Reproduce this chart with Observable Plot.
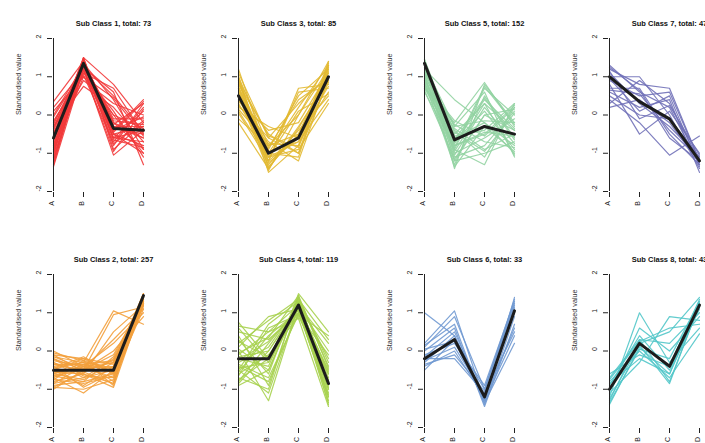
<!DOCTYPE html>
<html>
<head>
<meta charset="utf-8">
<script src="https://cdn.jsdelivr.net/npm/d3@7"></script>
<script src="https://cdn.jsdelivr.net/npm/@observablehq/plot@0.6"></script>
<style>
  html, body { margin: 0; padding: 0; background: #fff; }
  #wrap { position: relative; width: 705px; height: 443px; overflow: hidden; background: #fff; }
  .panel { position: absolute; width: 186px; height: 236px; }
  .panel svg { max-width: none !important; }
</style>
</head>
<body>
<div id="wrap"></div>
<script>
// ---- tick labels / categories ----
const xLabels = ["A", "B", "C", "D"];
const yTicks = [-2, -1, 0, 1, 2];

// ---- panels ----
const classIds = [1, 2, 3, 4, 5, 6, 7, 8];
const classTotals = [73, 257, 85, 119, 152, 33, 47, 43];
const classColors = ["#f2383a", "#f3a03c", "#e2b932", "#a7d24f", "#92d3a2", "#7099d2", "#7171b8", "#52c6c9"];

// ---- mean profiles (black lines) ----
const mean1 = [-0.6, 1.35, -0.35, -0.4];
const mean2 = [-0.5, -0.5, -0.5, 1.45];
const mean3 = [0.5, -1.0, -0.6, 1.0];
const mean4 = [-0.2, -0.2, 1.2, -0.85];
const mean5 = [1.35, -0.65, -0.3, -0.5];
const mean6 = [-0.2, 0.3, -1.2, 1.05];
const mean7 = [1.0, 0.35, -0.1, -1.2];
const mean8 = [-1.0, 0.2, -0.4, 1.2];

// ---- individual member profiles (representative subset) ----
const class1 = [
  [-1.3,1.4,-0.5,-0.3],[-1.1,1.3,-0.2,-0.9],[-0.9,1.45,-0.6,0.1],[-0.8,1.2,-1.05,-0.4],
  [-0.7,1.35,-0.3,-0.6],[-0.6,1.5,0.8,-0.2],[-0.5,1.1,0.7,-0.5],[-0.4,1.3,-0.4,0.4],
  [-0.3,0.75,0.2,-0.7],[0.35,1.4,-0.5,-0.8],[0.1,1.0,0.0,-1.0],[-1.0,1.4,-0.8,0.3],
  [-0.2,1.25,0.6,-1.3],[-0.85,1.35,-0.1,-0.1],[-0.65,1.2,-0.7,0.2],[-1.2,1.45,-0.35,-0.5],
  [-0.45,0.9,0.3,0.0],[0.0,1.3,-0.6,-0.4],[-0.55,1.5,-0.9,-0.2],[-0.75,1.1,0.1,-1.1],
  [-0.35,1.4,-0.2,-0.6],[-0.95,1.3,-0.45,0.35],[0.2,1.15,-0.3,-0.3],[-0.25,1.35,0.4,-0.9],
  [-1.35,1.2,-0.6,-0.7],[-0.15,1.05,-0.75,-0.15],[-1.15,1.25,0.5,-0.45],
  [-1.25,1.3,-0.15,-0.25],[-0.5,1.45,-0.5,-1.0],[-0.05,1.2,-0.95,0.15],[-0.9,1.0,0.45,-0.55],
  [-0.6,1.35,-0.25,0.3],[-1.05,1.5,-0.65,-0.85],[-0.3,1.2,0.0,-0.35],[-0.8,1.4,-0.4,-0.05]
];
const class2 = [
  [0.0,-0.4,-0.3,1.5],[-0.1,-0.2,-0.6,1.4],[-0.2,-0.5,-0.1,1.3],[-0.3,-0.7,-0.5,1.45],
  [-0.4,-0.3,-0.8,1.2],[-0.5,-0.9,-0.4,1.35],[-0.6,-0.4,-0.7,1.1],[-0.7,-1.1,-0.5,1.5],
  [-0.8,-0.6,-0.95,1.3],[-0.9,-0.8,-0.6,1.4],[-1.0,-0.5,-0.3,1.25],[-0.45,-0.3,1.05,0.7],
  [-0.35,-0.5,0.95,1.15],[-0.55,-0.6,0.5,1.2],[-0.25,-0.4,0.2,1.0],[-0.65,-0.5,0.0,0.9],
  [-0.15,-0.3,-0.45,1.45],[-0.75,-0.85,-0.65,1.35],[-0.85,-0.7,-0.2,1.2],[-0.05,-0.25,-0.55,1.3],
  [-0.95,-1.0,-0.75,1.45],[-0.5,-0.2,-0.35,1.4],[-0.3,-0.6,-0.85,1.5],[-0.7,-0.35,-0.25,1.3],
  [-0.15,-0.45,-0.4,1.35],[-0.6,-0.75,-0.3,1.25],[-0.4,-0.95,-0.55,1.4],[-0.85,-0.4,-0.45,1.5],
  [-0.2,-0.65,-0.7,1.2],[-0.95,-0.55,-0.85,1.35],[-0.45,-0.15,-0.6,1.45],[-0.65,-0.8,-0.15,1.3],
  [-0.1,-0.55,-0.25,1.4],[-0.75,-0.25,-0.9,1.45],[-0.55,-0.45,0.3,1.1],[-0.35,-0.35,-0.5,1.25]
];
const class3 = [
  [1.2,-1.1,-0.7,1.3],[1.0,-0.8,-0.5,1.1],[0.9,-1.5,-0.8,1.4],[0.8,-0.5,-1.0,0.9],
  [0.7,-1.2,0.7,0.8],[0.6,-0.9,0.5,1.2],[0.5,-1.3,-0.4,0.5],[0.4,-0.7,-1.2,1.0],
  [0.3,-1.0,0.2,1.3],[0.2,-0.3,-0.6,0.6],[0.1,-1.1,-0.9,0.3],[-0.1,-0.8,0.0,1.2],
  [-0.2,-1.4,-0.3,0.9],[1.1,-0.6,0.3,1.0],[0.75,-1.0,-1.1,1.35],[0.55,-1.2,0.6,0.7],
  [0.35,-0.4,-0.2,1.1],[0.85,-0.95,-0.7,0.4],[0.65,-1.35,-0.5,1.25],[0.15,-0.75,-0.8,0.85],
  [0.45,-1.1,0.1,0.55],[0.95,-1.25,-0.6,1.15],
  [1.0,-1.4,-0.35,1.0],[0.25,-0.6,-1.0,1.3],[0.7,-0.85,0.4,0.95],[0.05,-1.2,-0.55,0.75],
  [0.9,-0.55,-0.85,1.2],[0.5,-1.45,0.0,1.4]
];
const class4 = [
  [0.75,-0.2,1.3,-0.8],[0.5,0.3,1.0,-1.2],[0.3,-0.6,1.5,0.5],[0.1,0.9,1.1,-0.5],
  [0.0,-1.3,1.2,-1.0],[-0.1,0.5,0.85,-1.45],[-0.2,-0.4,1.4,-0.3],[-0.3,0.1,1.2,0.2],
  [-0.4,-0.8,1.0,-0.9],[-0.5,0.7,1.3,-1.1],[-0.6,-0.1,0.9,-0.6],[-0.7,-1.0,1.45,-1.3],
  [-0.8,0.2,1.15,0.0],[-0.9,-0.5,1.25,-0.7],[0.6,-0.3,1.1,-1.35],[0.2,0.8,1.35,-0.4],
  [-0.35,-0.7,0.95,0.4],[-0.15,0.0,1.2,-0.85],[-0.55,0.4,1.05,-1.2],[-0.75,-0.2,1.3,-0.2],
  [0.4,-0.9,1.4,-1.0],[-0.25,0.25,1.1,-0.95],
  [0.65,0.5,1.2,-0.6],[-0.45,-0.3,1.3,-1.4],[-0.65,0.6,0.95,-0.1],[0.05,-0.5,1.35,0.3],
  [-0.85,0.0,1.15,-1.15],[0.25,-0.15,1.0,-0.75],[-0.05,0.35,1.45,-0.45],[-0.5,-1.1,1.2,-0.55]
];
const class5 = [
  [1.45,-0.6,-0.3,-0.5],[1.4,-1.4,0.8,-0.2],[1.3,-0.9,-1.3,0.3],[1.2,0.4,-0.2,-0.8],
  [1.1,-0.3,0.6,-1.1],[1.0,-1.1,-0.8,0.1],[0.9,-0.5,0.3,-0.4],[0.8,-1.2,-1.0,-0.7],
  [0.7,-0.2,0.85,-0.3],[0.6,-0.8,-0.5,0.25],[1.35,-0.7,0.1,-0.9],[1.25,-1.0,-0.6,-0.1],
  [1.15,-0.4,-1.1,0.2],[1.05,-1.3,0.5,-0.6],[0.95,-0.6,-0.2,-1.0],[0.85,-0.9,0.7,0.0],
  [0.75,-0.35,-0.9,-0.5],[1.3,-1.05,0.2,-0.75],[1.4,-0.55,-0.4,0.3],[1.2,-0.75,0.4,-0.35],
  [1.0,-0.25,-0.7,-0.85],[0.65,-1.15,0.0,0.15],[1.35,-0.8,-0.45,-0.55],
  [1.1,-0.85,0.75,-0.25],[0.9,-1.35,-0.3,-0.95],[1.25,-0.45,-0.95,0.05],[0.7,-0.65,0.45,-0.65],
  [1.45,-1.2,0.0,-0.4],[0.8,-0.15,-0.55,0.2],[1.0,-0.95,0.3,-1.05],[1.3,-0.3,-0.15,-0.2]
];
const class6 = [
  [1.0,0.4,-1.2,1.1],[0.2,1.05,-1.3,1.4],[0.1,0.9,-1.0,1.2],[0.0,0.6,-1.45,0.7],
  [-0.1,0.2,-0.9,1.3],[-0.2,-0.2,-1.1,0.5],[-0.3,0.4,-1.35,0.2],[-0.4,0.0,-1.2,1.0],
  [-0.5,0.3,-1.0,1.35],[0.15,0.7,-1.4,0.9],[-0.25,0.1,-1.15,1.15],[-0.15,0.5,-1.25,0.6],
  [-0.35,-0.1,-1.05,1.25],[0.05,0.25,-1.3,0.4]
];
const class7 = [
  [1.3,0.6,0.2,-1.3],[1.2,0.8,0.7,-1.2],[1.1,0.3,-0.3,-1.1],[1.0,1.0,0.0,-1.4],
  [0.9,0.5,0.6,-1.2],[0.8,-0.5,0.1,-1.0],[0.7,0.7,-0.5,-1.3],[0.6,0.2,0.4,-1.5],
  [0.5,0.0,-0.1,-1.1],[0.3,0.9,0.3,-1.2],[0.2,0.4,-0.2,-1.25],[0.4,-0.2,-1.05,-0.55],
  [1.25,0.65,-0.6,-1.2],[0.95,0.1,0.5,-1.35],[0.65,0.55,-0.4,-1.15],[1.15,-0.1,0.25,-1.05]
];
const class8 = [
  [-1.4,0.1,-0.6,1.3],[-1.3,0.3,-0.8,1.2],[-1.2,1.0,-0.3,0.6],[-1.1,-0.3,0.9,0.8],
  [-1.0,0.2,0.5,1.4],[-0.9,0.4,-0.5,1.1],[-0.8,0.0,-0.7,0.45],[-0.7,0.3,0.2,1.0],
  [-0.6,-0.1,-0.4,1.35],[-1.25,0.15,-0.85,1.25],[-1.05,0.6,0.0,0.9],[-0.85,-0.2,-0.6,1.15],
  [-0.75,0.25,0.6,0.7],[-1.35,0.05,-0.2,1.3]
];

const members = [class1, class2, class3, class4, class5, class6, class7, class8];
const means = [mean1, mean2, mean3, mean4, mean5, mean6, mean7, mean8];

const wrap = document.getElementById("wrap");
const colStep = 185.3, rowStep = 236;
const fontFamily = "'Liberation Sans', Arial, Helvetica, sans-serif";

classIds.forEach((id, k) => {
  const col = Math.floor(k / 2), row = k % 2;
  const lines = [];
  members[k].forEach((vals, i) => vals.forEach((v, j) => lines.push({id: i, x: xLabels[j], y: v})));
  const meanRows = means[k].map((v, j) => ({x: xLabels[j], y: v}));
  const title = `Sub Class ${id}, total: ${classTotals[k]}`;

  const chart = Plot.plot({
    width: 186,
    height: 236,
    marginLeft: 52,
    marginRight: 42,
    marginTop: 38,
    marginBottom: 45,
    style: {fontFamily, background: "transparent", overflow: "visible", color: "#222", maxWidth: "none"},
    x: {type: "point", domain: xLabels, padding: 0, axis: null},
    y: {domain: [yTicks[0], yTicks[yTicks.length - 1]], axis: null},
    marks: [
      Plot.line(lines, {x: "x", y: "y", z: "id", stroke: classColors[k], strokeWidth: 1.2, strokeOpacity: 0.9}),
      Plot.line(meanRows, {x: "x", y: "y", stroke: "#1c1c1c", strokeWidth: 3}),
      Plot.ruleX([xLabels[0]], {y1: yTicks[0], y2: yTicks[yTicks.length - 1], stroke: "#222", strokeWidth: 1}),
      Plot.ruleY([yTicks[0]], {x1: xLabels[0], x2: xLabels[xLabels.length - 1], dy: 1, stroke: "#222", strokeWidth: 1}),
      Plot.axisY({ticks: yTicks, tickSize: 5, tickFormat: () => "", label: null, stroke: "#222"}),
      Plot.text(yTicks, {y: d => d, frameAnchor: "left", dx: -14, rotate: -90, text: d => String(d), fontSize: 7, fill: "#222"}),
      Plot.axisX({tickSize: 5, dy: 1, tickFormat: () => "", label: null, stroke: "#222"}),
      Plot.text(xLabels, {x: d => d, frameAnchor: "bottom", dy: 12, rotate: -90, text: d => d, fontSize: 7, fill: "#222"}),
      Plot.text([title], {frameAnchor: "top", dx: 15, dy: -18, text: d => d, fontSize: 7.5, fontWeight: "bold", fill: "#111"}),
      Plot.text(["Standardised value"], {frameAnchor: "left", dx: -34, rotate: -90, text: d => d, fontSize: 7.2, fill: "#333"})
    ]
  });
  const holder = document.createElement("div");
  holder.className = "panel";
  holder.style.left = (col * colStep) + "px";
  holder.style.top = (row * rowStep) + "px";
  holder.appendChild(chart);
  wrap.appendChild(holder);
});
</script>
</body>
</html>
